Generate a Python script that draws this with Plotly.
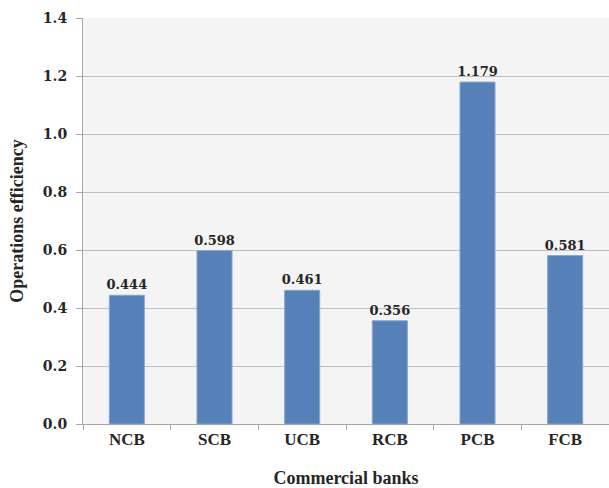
import plotly.graph_objects as go

# Operations efficiency by commercial bank group
banks = ["NCB", "SCB", "UCB", "RCB", "PCB", "FCB"]
efficiency = [0.444, 0.598, 0.461, 0.356, 1.179, 0.581]
value_labels = ["0.444", "0.598", "0.461", "0.356", "1.179", "0.581"]
y_ticks = [0.0, 0.2, 0.4, 0.6, 0.8, 1.0, 1.2, 1.4]
y_tick_text = ["0.0", "0.2", "0.4", "0.6", "0.8", "1.0", "1.2", "1.4"]

serif = "Liberation Serif"
num_font = "DejaVu Serif"

fig = go.Figure(
    go.Bar(
        x=banks,
        y=efficiency,
        width=0.4,
        marker=dict(color="#5580B8", line=dict(color="#8AA7D0", width=1)),
        text=["<b>%s</b>" % v for v in value_labels],
        textposition="outside",
        constraintext="none",
        textfont=dict(family=num_font, size=13, color="#262626"),
        cliponaxis=False,
    )
)

fig.update_layout(
    width=609,
    height=488,
    margin=dict(l=83, r=0, t=18, b=64),
    paper_bgcolor="white",
    plot_bgcolor="#F4F4F4",
    showlegend=False,
    bargap=0.6,
    font=dict(family=serif, color="#262626"),
)

fig.update_xaxes(
    showline=True,
    linecolor="#A6A6A6",
    linewidth=1,
    ticks="outside",
    tickson="boundaries",
    ticklen=5,
    tickcolor="#A6A6A6",
    tickfont=dict(family=serif, size=17, color="#262626"),
    title=dict(text="<b>Commercial banks</b>", font=dict(family=serif, size=18, color="#262626"), standoff=24),
    tickprefix="<b>",
    ticksuffix="</b>",
)

fig.update_yaxes(
    range=[0, 1.4],
    tickvals=y_ticks,
    ticktext=["<b>%s</b>" % t for t in y_tick_text],
    showline=True,
    linecolor="#A6A6A6",
    linewidth=1,
    ticks="outside",
    ticklen=6,
    tickcolor="#A6A6A6",
    ticklabelstandoff=6,
    showgrid=True,
    gridcolor="#BFBFBF",
    gridwidth=1,
    zeroline=False,
    tickfont=dict(family=num_font, size=14, color="#262626"),
    title=dict(text="<b>Operations efficiency</b>", font=dict(family=serif, size=18, color="#262626"), standoff=14),
)

fig.write_html("out.html")
